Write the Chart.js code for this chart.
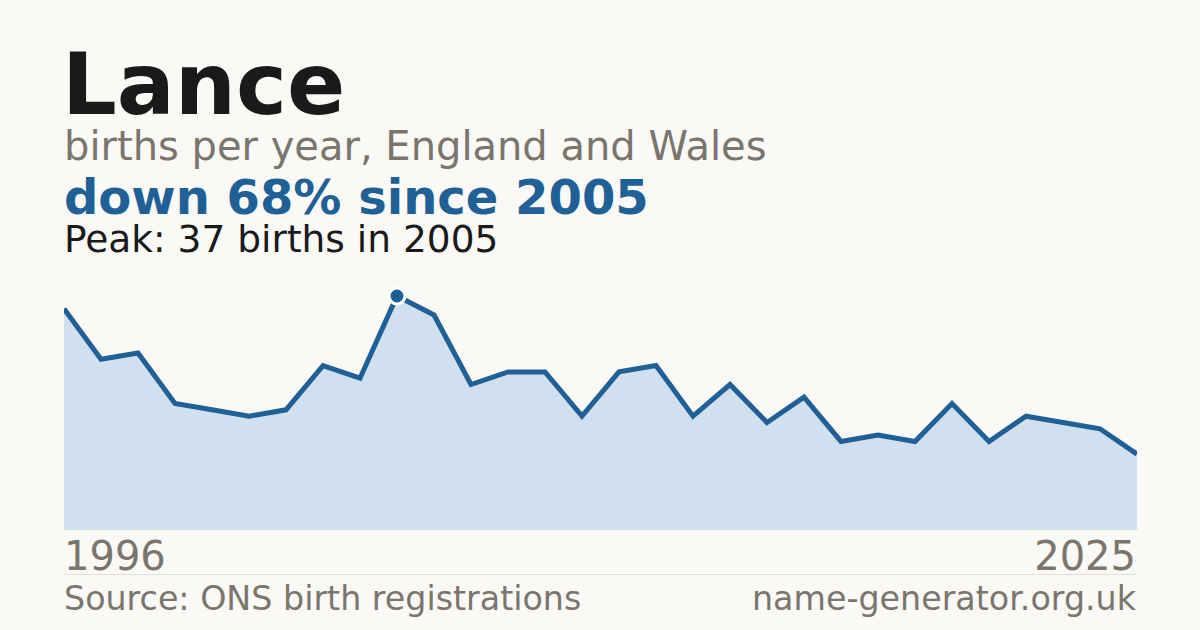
<!DOCTYPE html>
<html>
<head>
<meta charset="utf-8">
<script src="https://cdn.jsdelivr.net/npm/chart.js@4/dist/chart.umd.min.js"></script>
<style>
  html, body { margin: 0; padding: 0; }
  body { width: 1200px; height: 630px; background: #faf9f5; position: relative; overflow: hidden;
         font-family: "DejaVu Sans", sans-serif; }
  .t { position: absolute; line-height: 1; white-space: nowrap; }
  #title { left: 62px; top: 41px; font-size: 86px; font-weight: bold; color: #1a1a1a; }
  #sub { left: 64px; top: 126px; font-size: 40px; color: #7a756d; }
  #change { left: 64px; top: 173px; font-size: 48px; font-weight: bold; color: #1f6096; }
  #peak { left: 64px; top: 221px; font-size: 37.5px; color: #1a1a1a; }
  #y0 { left: 64px; top: 536px; font-size: 40px; color: #7a756d; }
  #y1 { right: 64px; top: 536px; font-size: 40px; color: #7a756d; }
  #src { left: 64px; top: 582px; font-size: 33.3px; color: #7a756d; }
  #site { right: 64px; top: 582px; font-size: 33.3px; color: #7a756d; }
  #rule { position: absolute; left: 64px; top: 574px; width: 1073px; height: 1px; background: #e2dfd8; }
  #wrap { position: absolute; left: 64px; top: 280px; width: 1073px; height: 250px; }
</style>
</head>
<body>
<div class="t" id="title">Lance</div>
<div class="t" id="sub">births per year, England and Wales</div>
<div class="t" id="change">down 68% since 2005</div>
<div class="t" id="peak">Peak: 37 births in 2005</div>
<div id="wrap"><canvas id="grafico"></canvas></div>
<div class="t" id="y0">1996</div>
<div class="t" id="y1">2025</div>
<div id="rule"></div>
<div class="t" id="src">Source: ONS birth registrations</div>
<div class="t" id="site">name-generator.org.uk</div>
<script>
// anos e nascimentos
var anos = [1996,1997,1998,1999,2000,2001,2002,2003,2004,2005,
            2006,2007,2008,2009,2010,2011,2012,2013,2014,2015,
            2016,2017,2018,2019,2020,2021,2022,2023,2024,2025];
var nascimentos = [35,27,28,20,19,18,19,26,24,37,
                   34,23,25,25,18,25,26,18,23,17,
                   21,14,15,14,20,14,18,17,16,12];
var anoPico = 2005;

var idxPico = anos.indexOf(anoPico);
var raios = anos.map(function (a, i) { return i === idxPico ? 8 : 0; });

const ctx = document.getElementById('grafico');

new Chart(ctx, {
  type: 'line',
  data: {
    labels: anos,
    datasets: [{
      data: nascimentos,
      borderColor: '#1f6096',
      borderWidth: 5,
      backgroundColor: '#d0e0ef',
      fill: 'origin',
      tension: 0,
      clip: false,
      pointRadius: raios,
      pointHoverRadius: raios,
      pointBackgroundColor: '#1f6096',
      pointBorderColor: '#ffffff',
      pointBorderWidth: 3
    }]
  },
  options: {
    responsive: true,
    maintainAspectRatio: false,
    animation: false,
    layout: { padding: { top: 16, left: 0, right: 0, bottom: 0 } },
    plugins: { legend: { display: false }, tooltip: { enabled: false } },
    scales: {
      x: { display: false, offset: false },
      y: { display: false, min: 0, max: 37 }
    }
  }
});
</script>
</body>
</html>
